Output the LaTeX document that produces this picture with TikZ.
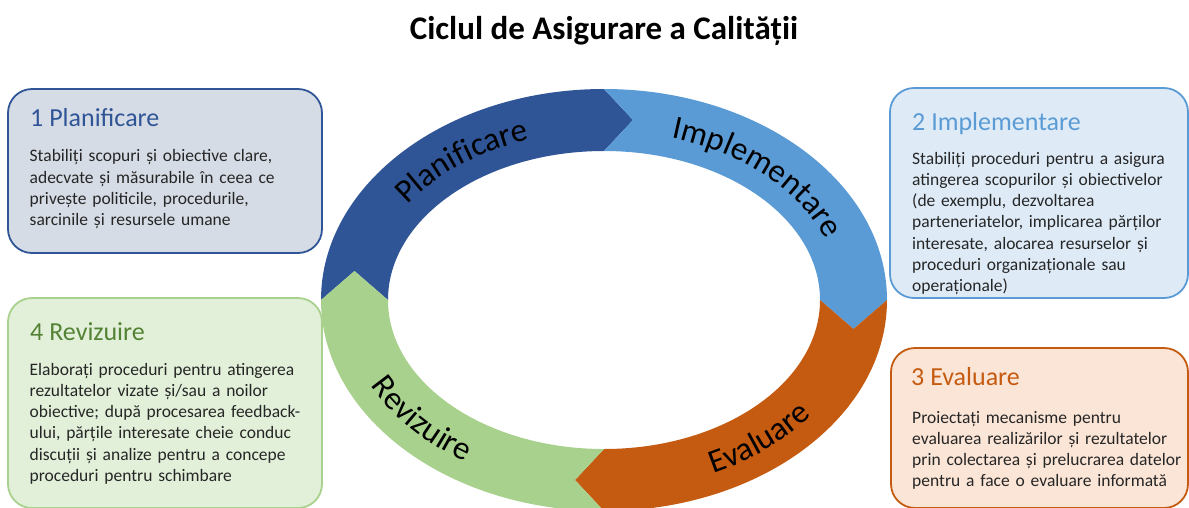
\documentclass[tikz,border=0pt]{standalone}
\usepackage{fontspec}
\setmainfont{Carlito}
\usetikzlibrary{calc,decorations.text}

\definecolor{planblue}{HTML}{2F5597}
\definecolor{planfill}{HTML}{D6DCE5}
\definecolor{implblue}{HTML}{5B9BD5}
\definecolor{implfill}{HTML}{DEEBF7}
\definecolor{evalorange}{HTML}{C55A11}
\definecolor{evalfill}{HTML}{FBE5D6}
\definecolor{revgreen}{HTML}{A9D18E}
\definecolor{revfill}{HTML}{E2F0D9}
\definecolor{revtext}{HTML}{548235}

\begin{document}
\begin{tikzpicture}[x=1pt, y=-1pt,
    box/.style={draw=#1, line width=1.8pt, rounded corners=24pt, inner sep=0pt},
    head/.style={anchor=base west, inner sep=0pt, font=\fontsize{26}{30}\selectfont},
    body/.style={anchor=base west, inner sep=0pt, text width=300pt, align=left,
        text=black!85, font=\fontsize{17.5}{21.3}\selectfont},
    ringlabel/.style={decorate, decoration={text along path, text align=center,
        text={|\fontsize{33}{33}\selectfont|#1}}}]
    \useasboundingbox (0,0) rectangle (1189,507);

    \node[font=\bfseries\fontsize{33}{36}\selectfont] (title) at (604,31) {Ciclul de Asigurare a Calității};

    \coordinate (ring) at (604,300);
    \foreach \a/\col in {180/planblue, 270/implblue, 0/evalorange, 90/revgreen}{
        \pgfmathsetmacro\b{\a+90}
        \fill[\col] ($(ring)+(\a:283 and 211)$)
            arc[start angle=\a, end angle=\b, x radius=283, y radius=211]
            -- ($(ring)+(\b:249.5 and 180)+({-29*sin(\b)},{29*cos(\b)})$)
            -- ($(ring)+(\b:216 and 149)$)
            arc[start angle=\b, end angle=\a, x radius=216, y radius=149]
            -- ($(ring)+(\a:249.5 and 180)+({-29*sin(\a)},{29*cos(\a)})$) -- cycle;
    }

    \path[ringlabel=Planificare] ($(ring)+(196:238 and 169)$)
        arc[start angle=196, end angle=266, x radius=238, y radius=169];
    \path[ringlabel=Implementare] ($(ring)+(279:238 and 169)$)
        arc[start angle=279, end angle=349, x radius=238, y radius=169];
    \path[ringlabel=Evaluare] ($(ring)+(84:261 and 191)$)
        arc[start angle=84, end angle=14, x radius=261, y radius=191];
    \path[ringlabel=Revizuire] ($(ring)+(175:261 and 191)$)
        arc[start angle=175, end angle=105, x radius=261, y radius=191];

    \node[box=planblue, fill=planfill, minimum width=314pt, minimum height=164pt] (plan) at (165,171) {};
    \node[box=implblue, fill=implfill, minimum width=298pt, minimum height=210pt] (impl) at (1039,193) {};
    \node[box=evalorange, fill=evalfill, minimum width=297pt, minimum height=160pt] (eval) at (1039.5,428) {};
    \node[box=revgreen, fill=revfill, minimum width=314pt, minimum height=210pt] (rev) at (165,403) {};

    \node[head, text=planblue] (planhead) at (30,126.7) {1 Planificare};
    \node[body] (plantext) at (29.5,161.7) {Stabiliți scopuri și obiective clare,\\
        adecvate și măsurabile în ceea ce\\ privește politicile, procedurile,\\
        sarcinile și resursele umane};

    \node[head, text=implblue] (implhead) at (912,130) {2 Implementare};
    \node[body] (impltext) at (912,164) {Stabiliți proceduri pentru a asigura\\
        atingerea scopurilor și obiectivelor\\ (de exemplu, dezvoltarea\\
        parteneriatelor, implicarea părților\\ interesate, alocarea resurselor și\\
        proceduri organizaționale sau\\ operaționale)};

    \node[head, text=evalorange] (evalhead) at (911,385) {3 Evaluare};
    \node[body] (evaltext) at (912,423) {Proiectați mecanisme pentru\\
        evaluarea realizărilor și rezultatelor\\ prin colectarea și prelucrarea datelor\\
        pentru a face o evaluare informată};

    \node[head, text=revtext] (revhead) at (30,340) {4 Revizuire};
    \node[body] (revtext) at (29.5,375) {Elaborați proceduri pentru atingerea\\
        rezultatelor vizate și/sau a noilor\\ obiective; după procesarea feedback-\\
        ului, părțile interesate cheie conduc\\ discuții și analize pentru a concepe\\
        proceduri pentru schimbare};
\end{tikzpicture}
\end{document}
